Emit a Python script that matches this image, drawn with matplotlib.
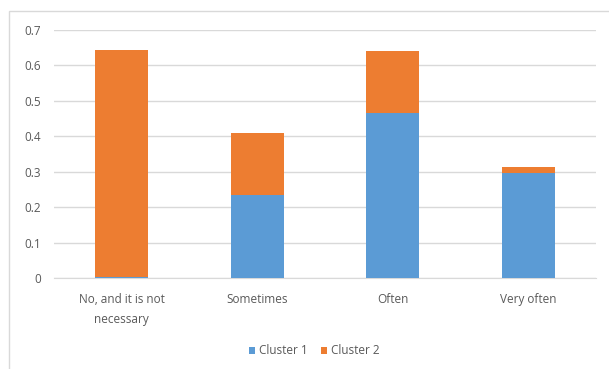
import matplotlib
matplotlib.use("Agg")
import matplotlib.pyplot as plt
from matplotlib.patches import Rectangle

categories = ["No, and it is not\nnecessary", "Sometimes", "Often", "Very often"]
cluster1 = [0.003, 0.235, 0.467, 0.295]
cluster2 = [0.640, 0.173, 0.173, 0.017]
series_names = ["Cluster 1", "Cluster 2"]
y_ticks = [0, 0.1, 0.2, 0.3, 0.4, 0.5, 0.6, 0.7]
y_tick_labels = ["0", "0.1", "0.2", "0.3", "0.4", "0.5", "0.6", "0.7"]

BLUE = "#5B9BD5"
ORANGE = "#ED7D31"
TEXT = "#595959"
GRID = "#D9D9D9"

plt.rcParams["font.family"] = ["Open Sans", "DejaVu Sans"]

W, H = 609, 369
fig = plt.figure(figsize=(W / 100, H / 100), dpi=100)

# outer chart frame
fig.patches.append(Rectangle((9 / W, -0.1), 1.2, 1 - 11 / H + 0.1,
                             transform=fig.transFigure, fill=False,
                             edgecolor="#D9D9D9", linewidth=1.0))

ax = fig.add_axes([54 / W, 1 - 278 / H, (596 - 54) / W, (278 - 30) / H])

x = list(range(len(categories)))
width = 0.39
ax.bar(x, cluster1, width=width, color=BLUE, label=series_names[0], zorder=3)
ax.bar(x, cluster2, width=width, bottom=cluster1, color=ORANGE,
       label=series_names[1], zorder=3)

ax.set_xlim(-0.5, len(categories) - 0.5)
ax.set_ylim(0, 0.7)
ax.set_yticks(y_ticks)
ax.set_yticklabels(y_tick_labels)
ax.set_xticks(x)
ax.set_xticklabels(categories, linespacing=1.75)

ax.yaxis.grid(True, color=GRID, linewidth=1.0, zorder=0)
ax.set_axisbelow(True)
for s in ["top", "right", "left"]:
    ax.spines[s].set_visible(False)
ax.spines["bottom"].set_color(GRID)
ax.tick_params(axis="both", length=0, colors=TEXT, labelsize=8.5)
ax.tick_params(axis="y", pad=9.5)
ax.tick_params(axis="x", pad=10.5)

fig.legend(loc="center", bbox_to_anchor=(314 / W, 1 - 351 / H), ncol=2,
           frameon=False, fontsize=8.5, labelcolor=TEXT,
           handlelength=0.55, handleheight=0.55, handletextpad=0.3,
           columnspacing=1.1)

fig.savefig("out.png", dpi=100)
